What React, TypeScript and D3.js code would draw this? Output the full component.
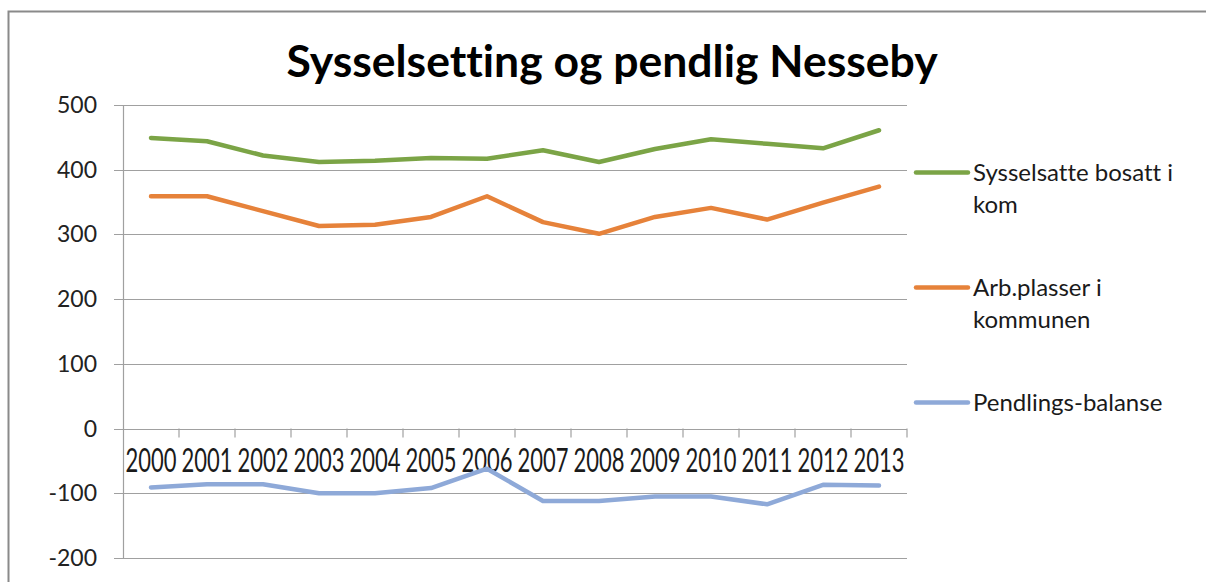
import React from "react";
import * as d3 from "d3";

const years = ["2000","2001","2002","2003","2004","2005","2006","2007","2008","2009","2010","2011","2012","2013"];
const sysselsatte = [449,444,422,412,414,418,417,430,412,432,447,440,433,461];
const arbplasser = [359,359,336,313,315,327,359,319,301,327,341,323,349,374];
const pendling = [-91,-86,-86,-100,-100,-92,-62,-112,-112,-105,-105,-117,-87,-88];
const yTicks = [500,400,300,200,100,0,-100,-200];
const seriesNames = [["Sysselsatte bosatt i","kom"],["Arb.plasser i","kommunen"],["Pendlings-balanse"]];
const seriesColors = ["#7BA446","#E6823A","#8EA9D8"];

const W = 1206, H = 582;
const FONT = "Lato, 'Open Sans', sans-serif";

export default function App() {
  const x = d3.scaleBand<string>().domain(years).range([123, 907]);
  const y = d3.scaleLinear().domain([-200, 500]).range([558, 105]);
  const line = d3.line<number>()
    .x((_, i) => (x(years[i]) as number) + x.bandwidth() / 2)
    .y(d => y(d));
  const series = [sysselsatte, arbplasser, pendling];
  const legendY = [172.5, 287.5, 402.5];
  return (
    <svg width={W} height={H} style={{ position: "absolute", left: 0, top: 0, display: "block", fontVariantLigatures: "none" }}>
      <rect x={0} y={0} width={W} height={H} fill="#fff" />
      <path d={`M8.5,${H + 2} V11.5 H${W + 2}`} fill="none" stroke="#8a8a8a" strokeWidth={2} />
      <text x={612} y={77} textAnchor="middle" fontFamily={FONT} fontWeight="bold" fontSize={44.5} fill="#000"
        style={{ fontVariantLigatures: "none" }}>
        Sysselsetting og pendlig Nesseby
      </text>
      {yTicks.map(t => (
        <g key={t}>
          <line x1={114} x2={907} y1={Math.round(y(t)) + 0.5} y2={Math.round(y(t)) + 0.5} stroke="#a0a0a0" strokeWidth={1.2} />
          <text x={97} y={y(t) + 8} textAnchor="end" fontFamily={FONT} fontSize={23} fill="#222">{t}</text>
        </g>
      ))}
      <line x1={123.5} x2={123.5} y1={105} y2={558} stroke="#a0a0a0" strokeWidth={1.2} />
      {years.map((yr, i) => (
        <line key={yr} x1={(x(yr) as number) + x.bandwidth()} x2={(x(yr) as number) + x.bandwidth()} y1={y(0)} y2={y(0) + 9} stroke="#a0a0a0" strokeWidth={1.2} />
      ))}
      {years.map(yr => (
        <text key={yr} transform={`translate(${(x(yr) as number) + x.bandwidth() / 2},472) scale(1,1.5)`}
          textAnchor="middle" fontFamily={FONT} fontSize={22} fill="#1a1a1a">{yr}</text>
      ))}
      {series.map((s, i) => (
        <path key={i} d={line(s) || ""} fill="none" stroke={seriesColors[i]} strokeWidth={4.5} strokeLinejoin="round" strokeLinecap="round" />
      ))}
      {seriesNames.map((names, i) => (
        <g key={i}>
          <line x1={916} x2={968} y1={legendY[i]} y2={legendY[i]} stroke={seriesColors[i]} strokeWidth={4.5} strokeLinecap="round" />
          {names.map((n, j) => (
            <text key={j} x={973} y={legendY[i] + 8 + j * 32} fontFamily={FONT} fontSize={24} fill="#1a1a1a"
              style={{ fontVariantLigatures: "none" }}>{n}</text>
          ))}
        </g>
      ))}
    </svg>
  );
}
